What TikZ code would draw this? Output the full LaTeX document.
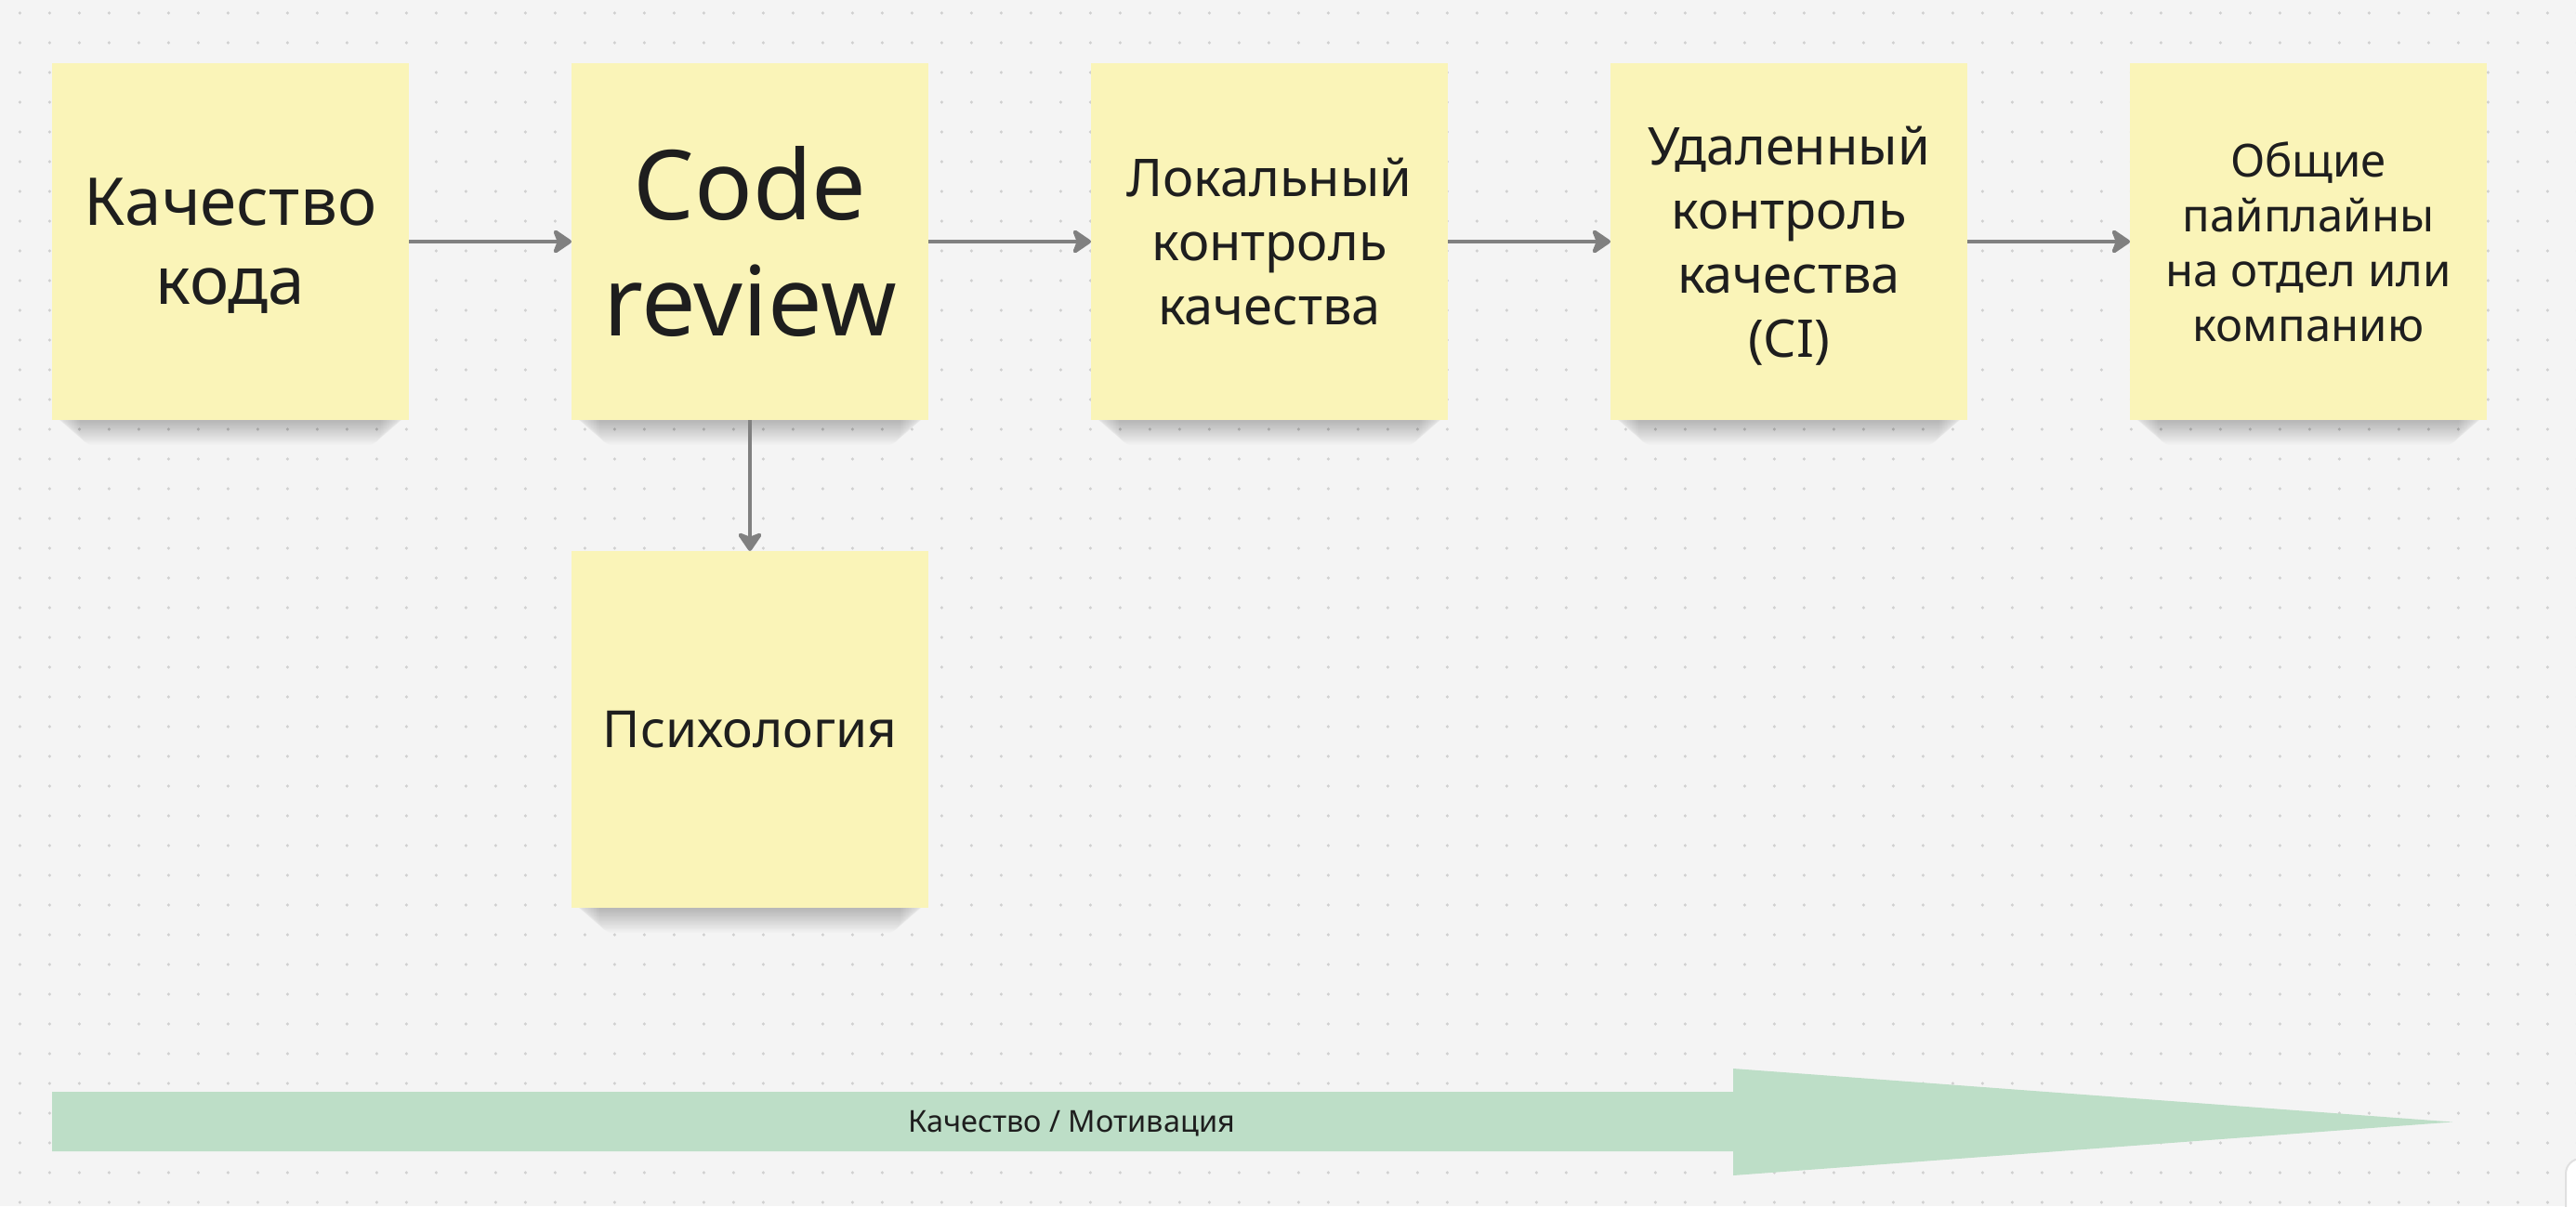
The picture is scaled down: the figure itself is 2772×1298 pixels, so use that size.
\documentclass[tikz,border=0pt]{standalone}
\usepackage{fontspec}
\setmainfont{Noto Sans}
\usetikzlibrary{arrows.meta,calc}
\definecolor{bg}{RGB}{244,244,244}
\definecolor{dotc}{RGB}{208,208,208}
\definecolor{sticky}{RGB}{250,244,184}
\definecolor{ink}{RGB}{30,30,30}
\definecolor{conn}{RGB}{128,128,128}
\definecolor{band}{RGB}{189,222,199}
\pgfdeclarelayer{bgl}
\pgfdeclarelayer{shl}
\pgfsetlayers{bgl,shl,main}
\begin{document}
\begin{tikzpicture}[x=1pt,y=-1pt,
  sticky/.style={rectangle, fill=sticky, minimum width=384pt, minimum height=384pt,
    inner sep=0pt, outer sep=0pt, text=ink, align=center},
  conn/.style={draw=conn, line width=4.5pt, -{Stealth[length=23pt,width=31pt,inset=6pt,round]}},
  shadowpiece/.style={fill=black, opacity=0.013, rounded corners=14pt},
]
\clip (0,0) rectangle (2772,1298);
\begin{pgfonlayer}{bgl}
\fill[bg] (0,0) rectangle (2772,1298);
\foreach \j in {0,...,40}{
  \draw[dotc, line width=3.6pt, line cap=round, dash pattern=on 0pt off 32pt]
    (21.4,{14+32*\j}) -- (2790,{14+32*\j});
}
\end{pgfonlayer}
% big band arrow
\fill[band] (56,1175) -- (1865,1175) -- (1865,1150) -- (2639,1207.5)
  -- (1865,1265) -- (1865,1239) -- (56,1239) -- cycle;
\node[text=ink, font=\fontsize{32.5}{39}\selectfont, inner sep=0pt] (lbl) at (1153,1209) {Качество / Мотивация};
% stickies
\node[sticky, font=\fontsize{71}{85}\selectfont, text depth=0pt] (b1) at (248,260) {Качество\\кода};
\node[sticky, font=\fontsize{104}{125}\selectfont] (b2) at (807,260) {Code\\review};
\node[sticky, font=\fontsize{56}{69}\selectfont] (b3) at (1366,260) {Локальный\\контроль\\качества};
\node[sticky, font=\fontsize{56}{69}\selectfont, text depth=0pt] (b4) at (1925,260) {Удаленный\\контроль\\качества\\(CI)};
\node[sticky, font=\fontsize{49}{59}\selectfont] (b5) at (2484,260) {Общие\\пайплайны\\на отдел или\\компанию};
\node[sticky, font=\fontsize{55}{66}\selectfont] (b6) at (807,785) {Психология};
% shadows under the stickies
\begin{pgfonlayer}{shl}
\foreach \n in {b1,b2,b3,b4,b5,b6}{
  \foreach \k in {1,...,20}{
    \fill[shadowpiece] ($(\n.south west)+({1.5*\k},-40)$) rectangle ($(\n.south east)+({-1.5*\k},{1+1.3*\k})$);
  }
}
\end{pgfonlayer}
% connectors
\draw[conn] (b1.east) -- (b2.west);
\draw[conn] (b2.east) -- (b3.west);
\draw[conn] (b3.east) -- (b4.west);
\draw[conn] (b4.east) -- (b5.west);
\draw[conn] (b2.south) -- (b6.north);
% corner panel
\filldraw[fill=white, draw=black!12, line width=2pt, rounded corners=16pt] (2761,1247) rectangle (2830,1340);
\end{tikzpicture}
\end{document}
